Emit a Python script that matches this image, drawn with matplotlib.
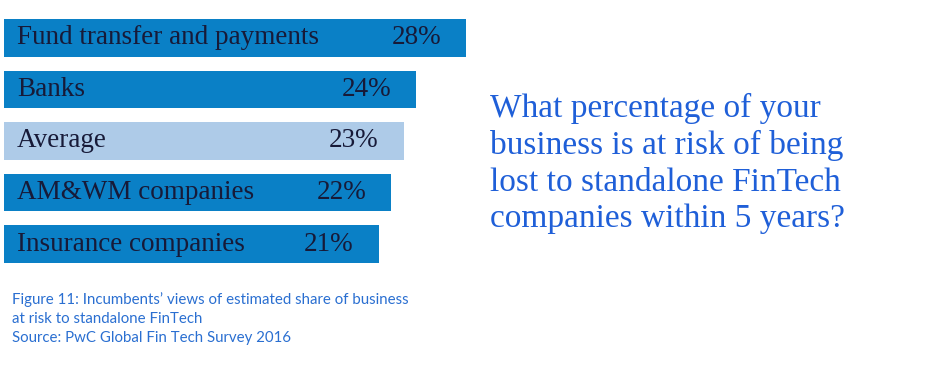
import matplotlib.pyplot as plt

categories = ["Fund transfer and payments", "Banks", "Average", "AM&WM companies", "Insurance companies"]
values = [28, 24, 23, 22, 21]
labels = ["28%", "24%", "23%", "22%", "21%"]
highlight = [False, False, True, False, False]

dark = "#0a80c6"
light = "#aecbe8"
ink = "#171a38"

fig = plt.figure(figsize=(9.26, 3.71), dpi=100)
ax = fig.add_axes([4 / 926, 1 - 269.8 / 371, 466 / 926, 257.8 / 371])

base = -8.9
pos = list(range(len(categories)))
colors = [light if h else dark for h in highlight]
ax.barh(pos, [v - base for v in values], left=base, height=0.73, color=colors)
ax.set_ylim(len(categories) - 0.5, -0.5)
ax.set_xlim(base, 28.3)
ax.axis("off")

for i, (cat, v, lab) in enumerate(zip(categories, values, labels)):
    ax.annotate(cat, (base, i), xytext=(13, 0), textcoords="offset pixels",
                ha="left", va="center", fontsize=19.5, family="Liberation Serif", color=ink)
    ax.annotate(lab, (v, i), xytext=(-25, 0), textcoords="offset pixels",
                ha="right", va="center", fontsize=19.5, family="Liberation Serif", color=ink)

question = "What percentage of your\nbusiness is at risk of being\nlost to standalone FinTech\ncompanies within 5 years?"
fig.text(490 / 926, 1 - 93 / 371, question, ha="left", va="top", fontsize=24,
         family="Liberation Serif", color="#1f5fd8", linespacing=1.25)

caption = ("Figure 11: Incumbents\u2019 views of estimated share of business\n"
           "at risk to standalone FinTech\n"
           "Source: PwC Global Fin Tech Survey 2016")
fig.text(12 / 926, 1 - 292 / 371, caption, ha="left", va="top", fontsize=10.8,
         family="Lato", color="#2a6fd1", linespacing=1.45)

fig.savefig("out.png", dpi=100, facecolor="white")
